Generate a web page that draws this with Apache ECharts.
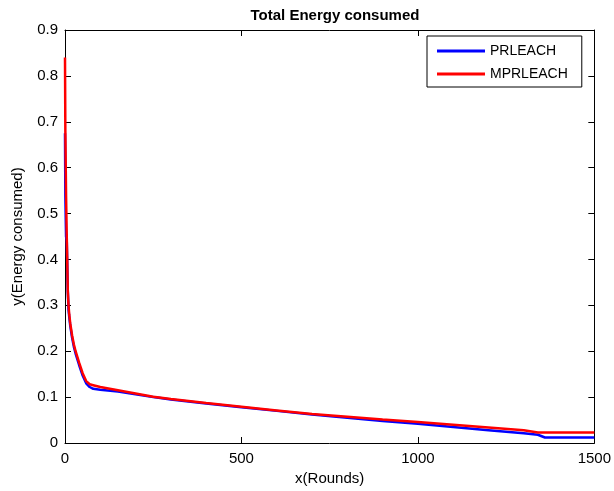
<!DOCTYPE html>
<html><head><meta charset="utf-8">
<script src="https://cdn.jsdelivr.net/npm/echarts@6/dist/echarts.min.js"></script>
<style>html,body{margin:0;padding:0;background:#fff}#c{width:614px;height:491px}</style>
</head><body><div id="c"></div>
<script>
const rounds = [0, 1, 3, 5, 8, 10, 12, 15, 20, 25, 30, 40, 50, 60, 70, 80, 100, 150, 200, 250, 300, 400, 500, 600, 700, 800, 900, 1000, 1100, 1200, 1300, 1340, 1360, 1500];
const prleach = [0.675, 0.54, 0.45, 0.44, 0.33, 0.29, 0.275, 0.255, 0.23, 0.21, 0.195, 0.17, 0.147, 0.13, 0.122, 0.118, 0.116, 0.112, 0.106, 0.100, 0.095, 0.086, 0.078, 0.070, 0.062, 0.055, 0.048, 0.042, 0.035, 0.028, 0.021, 0.018, 0.012, 0.012];
const mprleach = [0.84, 0.68, 0.54, 0.45, 0.33, 0.30, 0.28, 0.26, 0.235, 0.215, 0.20, 0.175, 0.152, 0.135, 0.128, 0.126, 0.122, 0.115, 0.108, 0.101, 0.096, 0.087, 0.079, 0.071, 0.063, 0.057, 0.051, 0.046, 0.040, 0.034, 0.028, 0.023, 0.023, 0.023];
const xTicks = [0, 500, 1000, 1500];
const seriesNames = ['PRLEACH', 'MPRLEACH'];

const chart = echarts.init(document.getElementById('c'), null, {renderer: 'canvas'});
const font = 'Liberation Sans, Arial, sans-serif';
const axisCommon = {
  axisLine: {show: true, onZero: false, lineStyle: {color: '#000', width: 1}},
  axisTick: {show: true, inside: true, length: 6, lineStyle: {color: '#000'}},
  splitLine: {show: false}
};
chart.setOption({
  animation: false,
  backgroundColor: '#fff',
  title: {text: 'Total Energy consumed', left: 330, textAlign: 'center', top: 3,
    textStyle: {fontFamily: font, fontSize: 15, fontWeight: 'bold', color: '#000'}},
  grid: {left: 65, right: 17, top: 30, bottom: 47},
  legend: {
    data: seriesNames, orient: 'vertical', left: 427, top: 36,
    borderColor: '#000', borderWidth: 1, padding: [8, 14, 6, 10], itemGap: 9,
    itemWidth: 48, itemHeight: 3, icon: 'rect',
    textStyle: {fontFamily: font, fontSize: 14, color: '#000'}
  },
  xAxis: [
    Object.assign({type: 'value', min: 0, max: 1500, interval: 500,
      name: 'x(Rounds)', nameLocation: 'middle', nameGap: 28,
      nameTextStyle: {fontFamily: font, fontSize: 15, color: '#000'},
      axisLabel: {fontFamily: font, fontSize: 15, color: '#000', margin: 8,
        formatter: v => String(v)}}, axisCommon),
    Object.assign({type: 'value', position: 'top', min: 0, max: 1500, interval: 500,
      axisLabel: {show: false}}, axisCommon)
  ],
  yAxis: [
    Object.assign({type: 'value', min: 0, max: 0.9, interval: 0.1,
      name: 'y(Energy consumed)', nameLocation: 'middle', nameGap: 40, nameRotate: 90,
      nameTextStyle: {fontFamily: font, fontSize: 15, color: '#000'},
      axisLabel: {fontFamily: font, fontSize: 15, color: '#000', margin: 7,
        formatter: v => (Math.round(v * 10) / 10).toString()}}, axisCommon),
    Object.assign({type: 'value', position: 'right', min: 0, max: 0.9, interval: 0.1,
      axisLabel: {show: false}}, axisCommon)
  ],
  series: [
    {name: seriesNames[0], type: 'line', xAxisIndex: 0, yAxisIndex: 0,
      data: rounds.map((r, i) => [r, prleach[i]]), showSymbol: false, symbol: 'none',
      lineStyle: {color: '#0000ff', width: 2.5}, itemStyle: {color: '#0000ff'}},
    {name: seriesNames[1], type: 'line', xAxisIndex: 0, yAxisIndex: 0,
      data: rounds.map((r, i) => [r, mprleach[i]]), showSymbol: false, symbol: 'none',
      lineStyle: {color: '#ff0000', width: 2.5}, itemStyle: {color: '#ff0000'}}
  ]
});
</script></body></html>
